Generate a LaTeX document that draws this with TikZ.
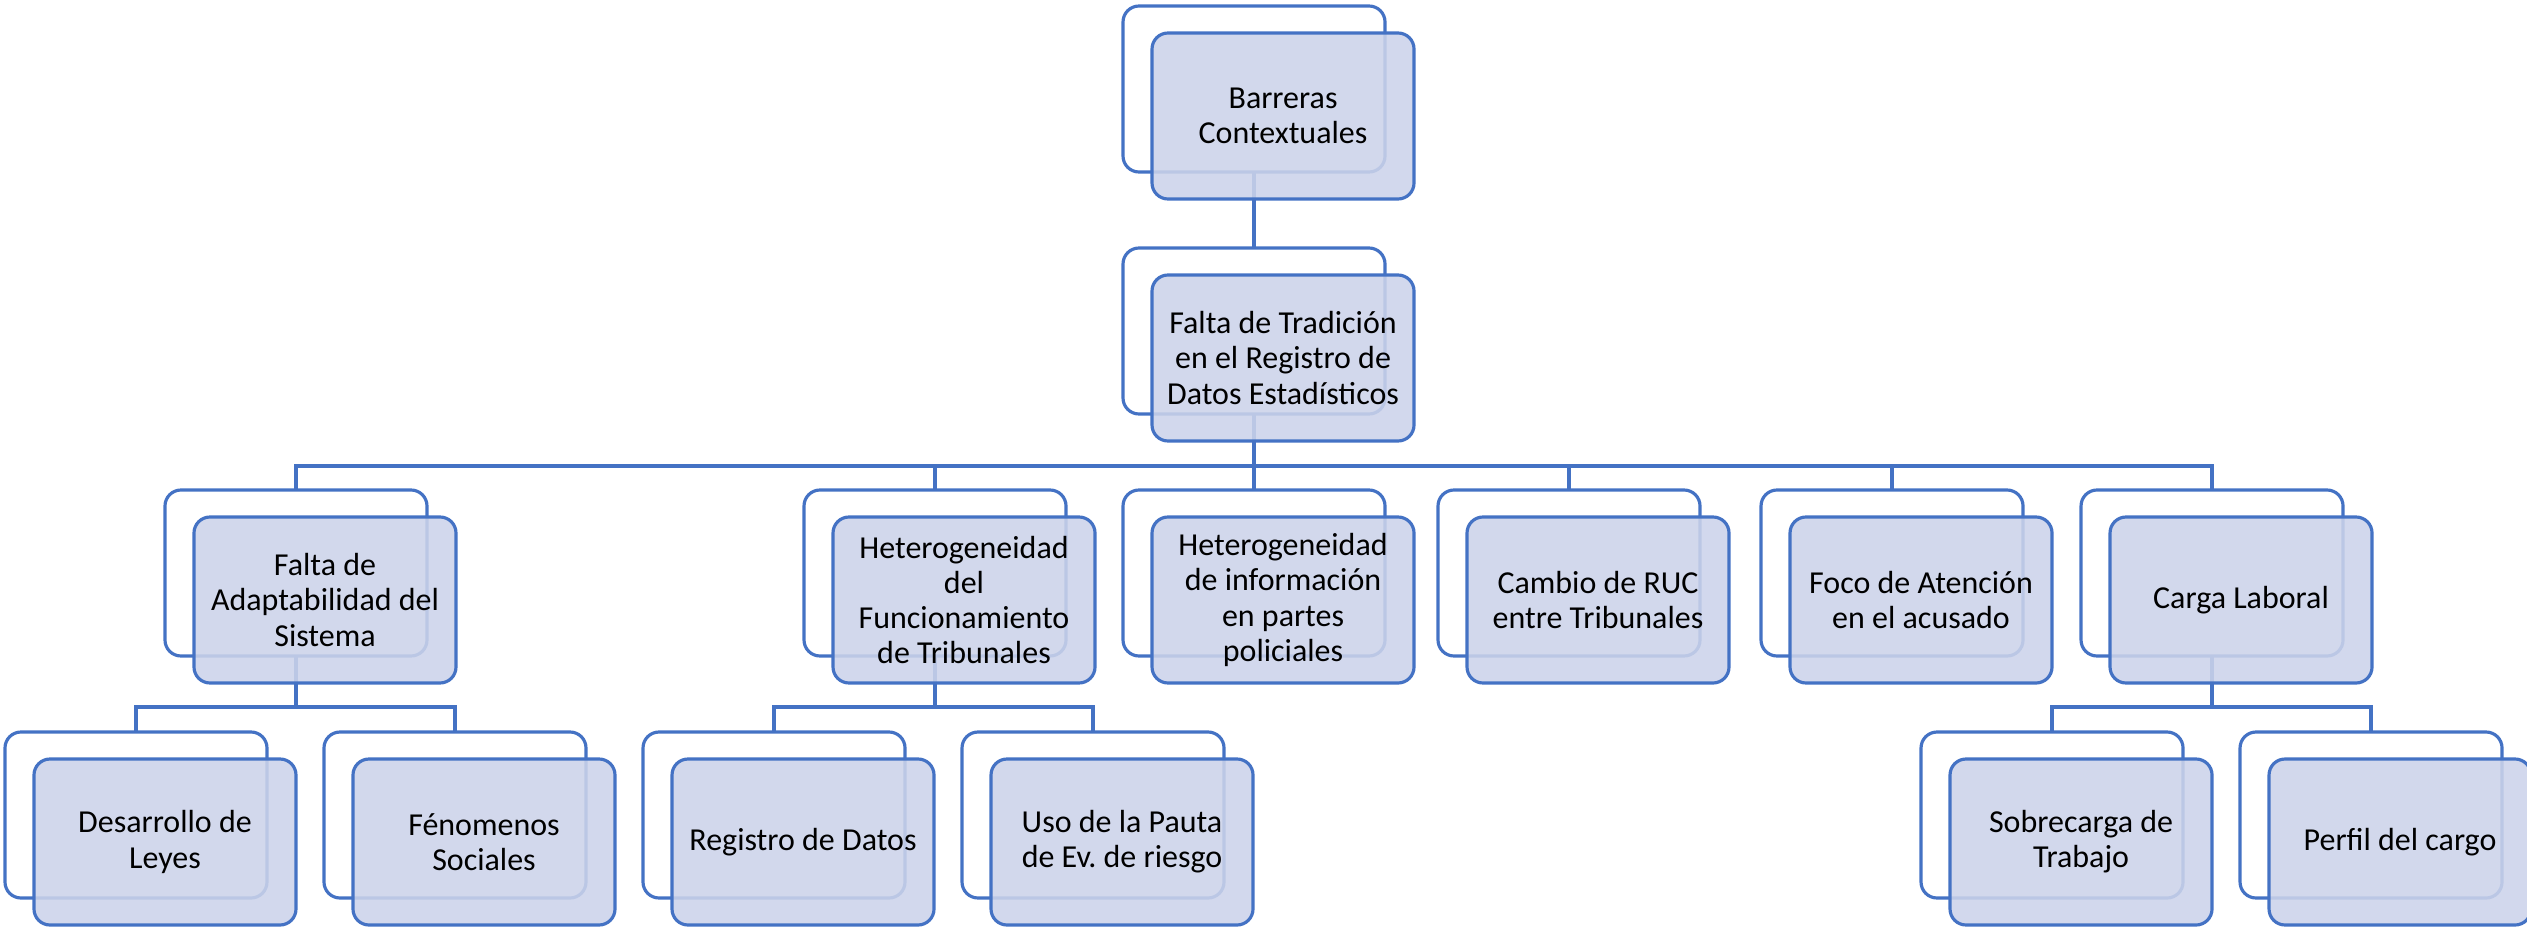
\documentclass[tikz,border=0pt]{standalone}
\usepackage{fontspec}
\setmainfont{Carlito}
\usepackage{xcolor}
\usepackage{tikz}
\usetikzlibrary{positioning, calc}
\definecolor{borderBlue}{RGB}{68, 114, 196}
\definecolor{fillBlue}{RGB}{204, 211, 234}
\frenchspacing

\tikzset{
    caja/.style={draw=borderBlue, line width=0.9pt, fill=white, rounded corners=0.16cm,
        minimum width=2.62cm, minimum height=1.66cm, inner sep=0pt, outer sep=0pt},
    frente/.style={caja, fill=fillBlue, fill opacity=0.88, text opacity=1,
        xshift=0.29cm, yshift=-0.27cm, align=center, font=\fontsize{9.1}{10}\selectfont},
    linea/.style={draw=borderBlue, line width=0.9pt}
}

\begin{document}
\begin{tikzpicture}
        \useasboundingbox (0,0) rectangle (25.27,9.26);
        % cajas de fondo
        \node[caja] (barreras) at (12.54,8.37) {};
        \node[caja] (falta) at (12.54,5.95) {};
        \node[caja] (adapt) at (2.96,3.53) {};
        \node[caja] (funcion) at (9.35,3.53) {};
        \node[caja] (partes) at (12.54,3.53) {};
        \node[caja] (ruc) at (15.69,3.53) {};
        \node[caja] (foco) at (18.92,3.53) {};
        \node[caja] (carga) at (22.12,3.53) {};
        \node[caja] (leyes) at (1.36,1.11) {};
        \node[caja] (fenom) at (4.55,1.11) {};
        \node[caja] (registro) at (7.74,1.11) {};
        \node[caja] (pauta) at (10.93,1.11) {};
        \node[caja] (sobrecarga) at (20.52,1.11) {};
        \node[caja] (perfil) at (23.71,1.11) {};
        \coordinate (barra1) at (0,4.60);
        \coordinate (barra2) at (0,2.19);
        % conectores
        \draw[linea] (barreras.south) -- (falta.north);
        \draw[linea] (falta.south) -- (falta.south |- barra1) -| (adapt.north);
        \draw[linea] (falta.south |- barra1) -| (funcion.north);
        \draw[linea] (falta.south |- barra1) -- (partes.north);
        \draw[linea] (falta.south |- barra1) -| (ruc.north);
        \draw[linea] (falta.south |- barra1) -| (foco.north);
        \draw[linea] (falta.south |- barra1) -| (carga.north);
        \draw[linea] (adapt.south) -- (adapt.south |- barra2) -| (leyes.north);
        \draw[linea] (adapt.south |- barra2) -| (fenom.north);
        \draw[linea] (funcion.south) -- (funcion.south |- barra2) -| (registro.north);
        \draw[linea] (funcion.south |- barra2) -| (pauta.north);
        \draw[linea] (carga.south) -- (carga.south |- barra2) -| (sobrecarga.north);
        \draw[linea] (carga.south |- barra2) -| (perfil.north);
        % cajas con texto
        \node[frente] (barreras-txt) at (barreras) {Barreras\\Contextuales};
        \node[frente] (falta-txt) at (falta) {Falta de Tradición\\en el Registro de\\Datos Estadísticos};
        \node[frente] (adapt-txt) at (adapt) {Falta de\\Adaptabilidad del\\Sistema};
        \node[frente] (funcion-txt) at (funcion) {Heterogeneidad\\del\\Funcionamiento\\de Tribunales};
        \node[frente] (partes-txt) at (partes) {Heterogeneidad\\de información\\en partes\\policiales};
        \node[frente] (ruc-txt) at (ruc) {Cambio de RUC\\entre Tribunales};
        \node[frente] (foco-txt) at (foco) {Foco de Atención\\en el acusado};
        \node[frente] (carga-txt) at (carga) {Carga Laboral};
        \node[frente] (leyes-txt) at (leyes) {Desarrollo de\\Leyes};
        \node[frente] (fenom-txt) at (fenom) {Fénomenos\\Sociales};
        \node[frente] (registro-txt) at (registro) {Registro de Datos};
        \node[frente] (pauta-txt) at (pauta) {Uso de la Pauta\\de Ev. de riesgo};
        \node[frente] (sobrecarga-txt) at (sobrecarga) {Sobrecarga de\\Trabajo};
        \node[frente] (perfil-txt) at (perfil) {Perfil del cargo};
    \end{tikzpicture}
\end{document}
